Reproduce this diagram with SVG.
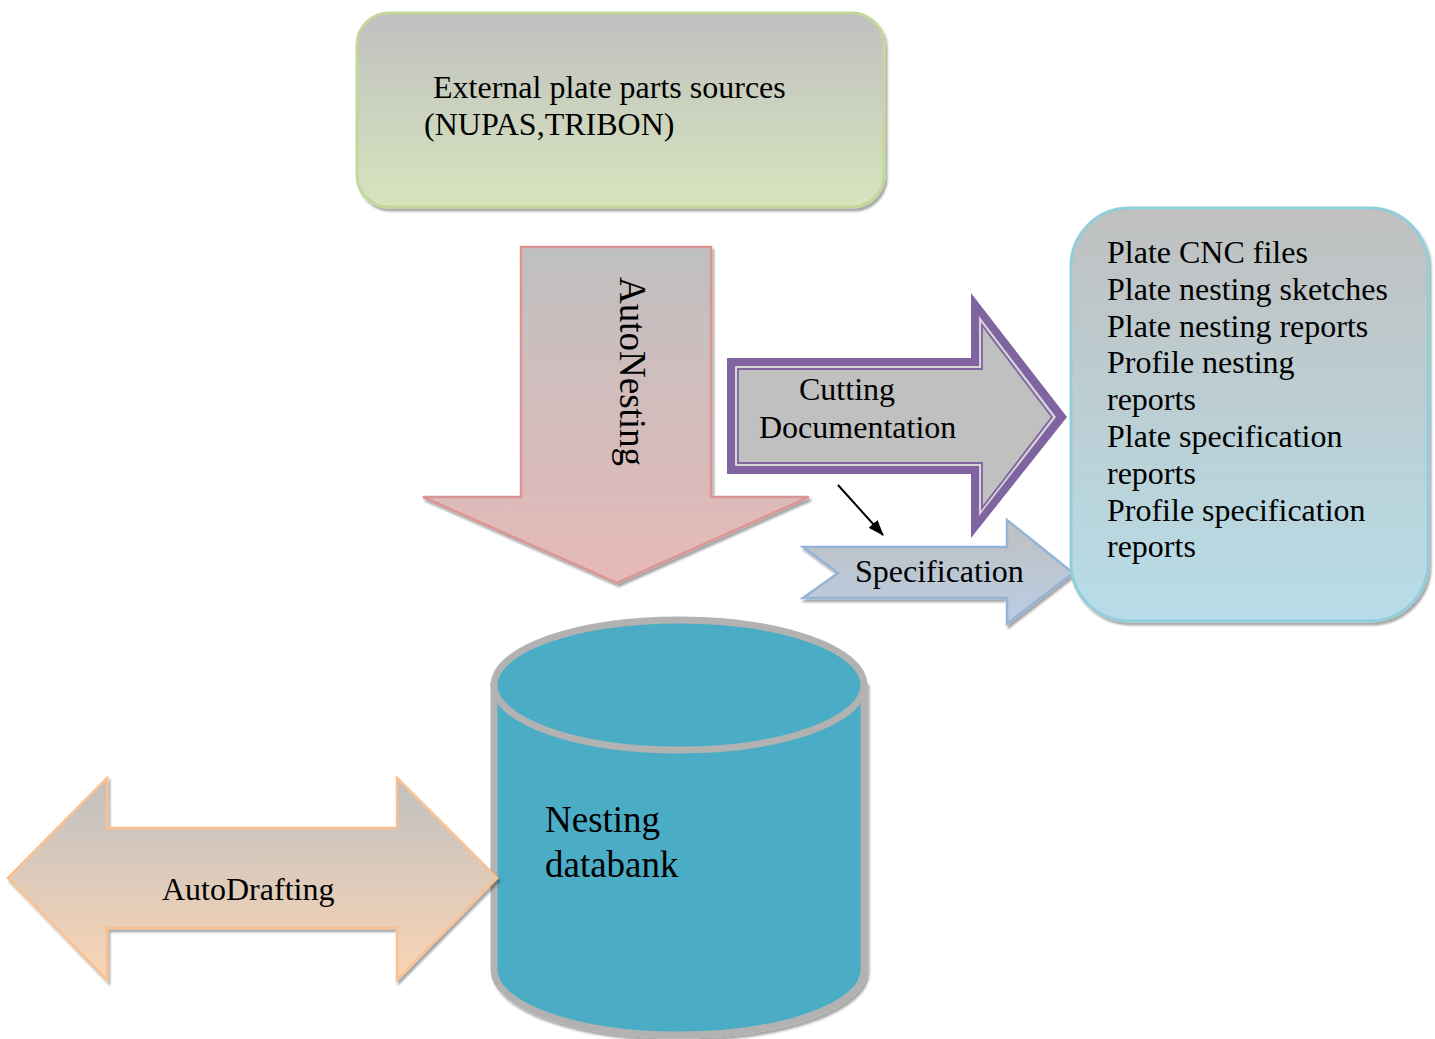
<svg xmlns="http://www.w3.org/2000/svg" width="1435" height="1039" viewBox="0 0 1435 1039">
<style>
text{font-family:"Liberation Serif","Times New Roman",serif;fill:#000}
.t31{font-size:32px}
.t32{font-size:32px}
.t37{font-size:37px}
</style>
<defs>
<filter id="sh" x="-10%" y="-10%" width="120%" height="120%">
<feDropShadow dx="2" dy="3" stdDeviation="1.2" flood-color="#000" flood-opacity="0.35"/>
</filter>
<linearGradient id="gGreen" x1="0" y1="0" x2="0" y2="1"><stop offset="0" stop-color="#c0c0c0"/><stop offset="1" stop-color="#d7e4bd"/></linearGradient>
<linearGradient id="gPink" x1="0" y1="0" x2="0" y2="1"><stop offset="0" stop-color="#c0c0c0"/><stop offset="1" stop-color="#e6b9b8"/></linearGradient>
<linearGradient id="gBlue" x1="0" y1="0" x2="0" y2="1"><stop offset="0" stop-color="#c0c0c0"/><stop offset="1" stop-color="#b7dde8"/></linearGradient>
<linearGradient id="gSpec" x1="0" y1="0" x2="0" y2="1"><stop offset="0" stop-color="#c0c0c0"/><stop offset="1" stop-color="#b9cde5"/></linearGradient>
<linearGradient id="gPeach" x1="0" y1="0" x2="0" y2="1"><stop offset="0" stop-color="#c0c0c0"/><stop offset="1" stop-color="#fbd5b5"/></linearGradient>
<marker id="ah" viewBox="0 0 16 12" refX="15" refY="6" markerWidth="16" markerHeight="12" orient="auto" markerUnits="userSpaceOnUse">
<path d="M0,0 L16,6 L0,12 z" fill="#000"/>
</marker>
</defs>
<rect width="1435" height="1039" fill="#fff"/>

<g id="external-sources">
<rect x="357" y="13" width="527" height="194" rx="32" fill="url(#gGreen)" stroke="#c3d69b" stroke-width="3" filter="url(#sh)"/>
<text class="t31" x="433" y="98">External plate parts sources</text>
<text class="t31" x="424" y="135">(NUPAS,TRIBON)</text>
</g>

<g id="autonesting">
<path d="M521,247 L711,247 L711,497 L809,497 L617,583 L423,497 L521,497 Z" fill="url(#gPink)" stroke="#d99694" stroke-width="2.5" filter="url(#sh)"/>
<text class="t37" transform="translate(620,277) rotate(90)">AutoNesting</text>
</g>

<g id="cutting-documentation">
<path d="M727,358 L971,358 L971,293 L1067,417 L971,538 L971,474 L727,474 Z" fill="#8064a2"/>
<path d="M735,366 L979,366 L979,316 L1056,417 L979,516 L979,466 L735,466 Z" fill="#d6d6d6"/>
<path d="M738,369 L982,369 L982,325 L1052,417 L982,508 L982,463 L738,463 Z" fill="#c0c0c0" stroke="#8064a2" stroke-width="1.8"/>
<text class="t31" x="799" y="400">Cutting</text>
<text class="t31" x="759" y="438">Documentation</text>
</g>

<g id="specification">
<path d="M803,547 L1007,547 L1007,520 L1073,573 L1007,624 L1007,598 L803,598 L838,573 Z" fill="url(#gSpec)" stroke="#95b3d7" stroke-width="2.5" filter="url(#sh)"/>
<text class="t31" x="855" y="582">Specification</text>
</g>

<g id="outputs">
<rect x="1071" y="208" width="357" height="413" rx="58" fill="url(#gBlue)" stroke="#92cddc" stroke-width="3" filter="url(#sh)"/>
<text class="t32" x="1107" y="263">Plate CNC files</text>
<text class="t32" x="1107" y="300">Plate nesting sketches</text>
<text class="t32" x="1107" y="337">Plate nesting reports</text>
<text class="t32" x="1107" y="373">Profile nesting</text>
<text class="t32" x="1107" y="410">reports</text>
<text class="t32" x="1107" y="447">Plate specification</text>
<text class="t32" x="1107" y="484">reports</text>
<text class="t32" x="1107" y="521">Profile specification</text>
<text class="t32" x="1107" y="557">reports</text>
</g>

<g id="nesting-databank">
<path d="M494,685 L494,970 A185,65 0 0 0 864,970 L864,685 Z" fill="#4bacc6" stroke="#b2b2b2" stroke-width="7" filter="url(#sh)"/>
<ellipse cx="679" cy="685" rx="185" ry="65" fill="#4bacc6" stroke="#b2b2b2" stroke-width="7"/>
<text class="t37" x="545" y="832">Nesting</text>
<text class="t37" x="545" y="877">databank</text>
</g>

<g id="autodrafting">
<path d="M8,878 L107,778 L107,828 L397,828 L397,778 L497,878 L397,980 L397,928 L107,928 L107,980 Z" fill="url(#gPeach)" stroke="#fac090" stroke-width="2.5" filter="url(#sh)"/>
<text class="t31" x="162" y="900">AutoDrafting</text>
</g>

<g id="connectors">
<line x1="838" y1="485" x2="883" y2="535" stroke="#000" stroke-width="2" marker-end="url(#ah)"/>
</g>
</svg>
